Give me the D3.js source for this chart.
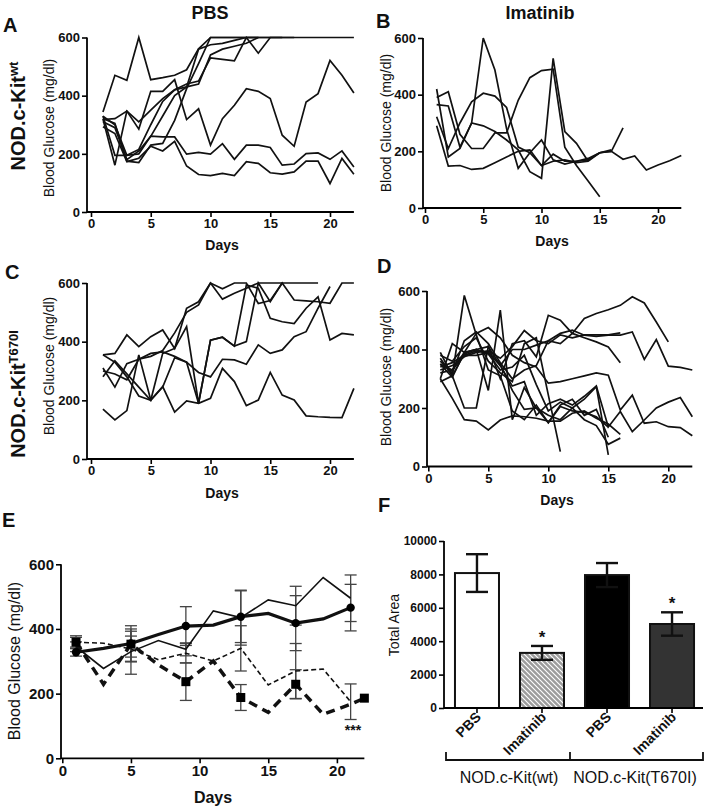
<!DOCTYPE html>
<html><head><meta charset="utf-8">
<script src="https://cdn.jsdelivr.net/npm/d3@7"></script>
<style>
body{margin:0;background:#fff}
svg{display:block}
text{font-family:"Liberation Sans",Arial,Helvetica,sans-serif;fill:#111}
</style>
</head><body>
<svg id="c" width="710" height="809"></svg>
<script>
// ---------------- DATA ----------------
const dayTicks = [0, 5, 10, 15, 20];
const glucoseTicks = [0, 200, 400, 600];

// Panel A: NOD.c-Kit wt, PBS (values for day 1,2,3,...)
const panelA = [
  [344, 470, 453, 600, 455, 462, 470, 489, 561, 600, 600, 600, 600, 600, 600, 600, 600, 600, 600, 600, 600, 600],
  [318, 321, 347, 285, 415, 415, 455, 318, 355, 230, 321, 367, 424, 415, 390, 264, 226, 378, 407, 521, 470, 409],
  [329, 300, 195, 200, 261, 258, 258, 199, 205, 199, 235, 181, 230, 230, 222, 161, 165, 201, 203, 181, 210, 155],
  [293, 270, 173, 185, 226, 210, 243, 158, 129, 125, 133, 125, 173, 167, 135, 130, 138, 175, 175, 98, 184, 130],
  [320, 161, 347, 310, 350, 390, 420, 440, 450, 530, 525, 520, 600, 546, 600, 600],
  [321, 305, 175, 170, 230, 236, 315, 424, 510, 600, 600, 600, 600, 600],
  [330, 195, 195, 215, 300, 380, 420, 430, 440, 540, 560, 570, 580, 600, 600, 600, 600],
  [310, 290, 180, 210, 260, 330, 400, 430, 560, 575, 580, 590, 600, 600]
];
// Panel B: NOD.c-Kit wt, Imatinib
const panelB = [
  [365, 360, 215, 300, 600, 487, 280, 140, 195, 150, 165, 170, 160, 165, 195, 200, 283],
  [322, 210, 300, 375, 405, 395, 355, 215, 195, 240, 170, 155, 165, 175, 195, 205],
  [390, 410, 260, 210, 210, 265, 265, 380, 460, 485, 490, 215, 150, 95, 40],
  [290, 148, 150, 136, 140, 160, 180, 200, 205, 150, 190, 165, 165, 170, 195, 200, 172, 184, 134, 152, 167, 185],
  [420, 180, 210, 300, 290, 270, 240, 205, 128, 105, 528, 270, 228, 165]
];
// Panel C: NOD.c-Kit T670I, PBS
const panelC = [
  [170, 133, 165, 355, 201, 247, 160, 198, 190, 207, 309, 264, 182, 201, 295, 218, 201, 147, 144, 142, 141, 241],
  [355, 330, 280, 215, 200, 245, 345, 330, 190, 405, 415, 385, 593, 582, 480, 468, 462, 514, 553, 406, 428, 423],
  [310, 245, 325, 340, 360, 365, 350, 330, 295, 280, 340, 338, 323, 389, 360, 372, 417, 434, 514, 588],
  [355, 360, 423, 383, 417, 440, 377, 514, 536, 600, 545, 565, 582, 600, 600, 600, 600, 600, 600],
  [280, 335, 290, 245, 200, 360, 377, 451, 190, 405, 415, 385, 400, 600, 536, 600, 542, 539, 536, 531, 600, 600],
  [300, 290, 270, 340, 350, 370, 430, 500, 525, 600, 580, 600, 600, 530, 540, 600]
];
// Panel D: NOD.c-Kit T670I, Imatinib
const panelD = [
  [360, 320, 430, 460, 420, 355, 300, 330, 345, 430, 420, 455, 506, 523, 536, 551, 580, 559, 494, 426],
  [340, 355, 380, 395, 390, 345, 400, 400, 415, 430, 455, 466, 449, 445, 449, 449, 460, 366, 434, 343, 339, 330],
  [370, 310, 385, 400, 410, 300, 420, 430, 375, 517, 500, 455, 440, 426, 409, 355],
  [330, 345, 375, 390, 395, 370, 410, 465, 430, 420, 450, 440, 450, 450, 450, 457],
  [300, 420, 390, 455, 475, 440, 380, 355, 340, 285, 290, 300, 310, 320, 312, 193, 244, 148, 153, 136, 133, 105],
  [390, 310, 200, 200, 410, 345, 275, 290, 175, 215, 230, 210, 240, 275, 135, 188, 119, 159, 200, 220, 236, 170],
  [350, 305, 390, 400, 385, 330, 340, 380, 280, 190, 220, 200, 230, 273, 40],
  [380, 360, 410, 440, 360, 320, 290, 420, 440, 245, 51],
  [320, 330, 380, 380, 390, 350, 260, 195, 200, 175, 160, 200, 160, 140, 76, 97],
  [300, 233, 160, 155, 125, 159, 173, 170, 165, 155, 155, 182, 190, 165, 145, 110],
  [290, 310, 585, 450, 330, 310, 190, 160, 210, 150, 210, 230, 175, 195, 100],
  [350, 330, 390, 400, 260, 535, 160, 270, 200, 150, 205, 190, 185, 170, 135]
];

// Panel E: means
const eDays = [1, 3, 5, 7, 9, 11, 13, 15, 17, 19, 21];
const eDaysSq = [1, 3, 5, 7, 9, 11, 13, 15, 17, 19, 21, 22];
const ePbsThin = [345, 278, 330, 364, 337, 456, 435, 490, 472, 559, 495];
const ePbsThick = [328, 340, 355, 383, 409, 412, 438, 448, 418, 431, 466];
const eImaThin = [359, 356, 338, 305, 325, 301, 340, 227, 270, 276, 175];
const eImaThick = [359, 229, 353, 289, 237, 301, 188, 142, 229, 136, 167, 186];
const eMarkDays = [1, 5, 9, 13, 17, 21];
const eMarkDaysSq = [1, 5, 9, 13, 17, 22];
const eErrPbsThick = [12, 55, 60, 80, 85, 72];
const eErrPbsThin = [15, 70, 20, 85, 60, 72];
const eErrImaThin = [20, 40, 30, 70, 85, 55];
const eErrImaThick = [15, 40, 58, 40, 45, 0];

// Panel F
const fLabels = ["PBS", "Imatinib", "PBS", "Imatinib"];
const fValues = [8080, 3300, 7960, 5030];
const fErrors = [1130, 415, 720, 700];
const fTicks = [0, 2000, 4000, 6000, 8000, 10000];
const fGroups = ["NOD.c-Kit(wt)", "NOD.c-Kit(T670I)"];

// ---------------- DRAW ----------------
const svg = d3.select("#c");
const defs = svg.append("defs");
const pat = defs.append("pattern").attr("id", "hatch").attr("patternUnits", "userSpaceOnUse")
  .attr("width", 5).attr("height", 5);
pat.append("rect").attr("width", 5).attr("height", 5).attr("fill", "#9c9c9c");
pat.append("path").attr("d", "M-1,-1 L6,6 M-1,4 L1,6 M4,-1 L6,1").attr("stroke", "#fff").attr("stroke-width", 1.1);

function styleAxis(g, fs) {
  g.select(".domain").remove();
  g.selectAll(".tick line").attr("stroke", "#000").attr("stroke-width", 1.6);
  g.selectAll(".tick text").attr("font-size", fs).attr("font-weight", "bold")
    .attr("fill", "#111").attr("font-family", '"Liberation Sans",Arial,sans-serif');
}

function glucosePanel(cfg) {
  const x = d3.scaleLinear().domain([0, 22]).range([cfg.x0, cfg.x0 + 22 * cfg.ppd]);
  const y = d3.scaleLinear().domain([0, 600]).range([cfg.y0, cfg.y600]);
  const g = svg.append("g");
  const gy = g.append("g").attr("transform", `translate(${cfg.yAxisX},0)`)
    .call(d3.axisLeft(y).tickValues(glucoseTicks).tickSize(5).tickPadding(2).tickSizeOuter(0));
  styleAxis(gy, cfg.fs);
  const gx = g.append("g").attr("transform", `translate(0,${cfg.y0})`)
    .call(d3.axisBottom(x).tickValues(dayTicks).tickSize(5).tickPadding(2).tickSizeOuter(0));
  styleAxis(gx, cfg.fs);
  g.append("line").attr("x1", cfg.yAxisX).attr("x2", cfg.yAxisX).attr("y1", y(0)).attr("y2", y(600))
    .attr("stroke", "#000").attr("stroke-width", 1.8);
  g.append("line").attr("x1", cfg.yAxisX).attr("x2", x(22)).attr("y1", y(0)).attr("y2", y(0))
    .attr("stroke", "#000").attr("stroke-width", 1.8);
  return {g, x, y};
}

function drawLines(p, lines) {
  const ln = d3.line().x((d, i) => p.x(i + 1)).y(d => p.y(d));
  p.g.selectAll("path.series").data(lines).enter().append("path").attr("class", "series")
    .attr("d", ln).attr("fill", "none").attr("stroke", "#111").attr("stroke-width", 1.7)
    .attr("stroke-linejoin", "miter");
}

function yLabel(x, y, txt, fs, weight) {
  svg.append("text").attr("transform", `translate(${x},${y}) rotate(-90)`)
    .attr("text-anchor", "middle").attr("font-size", fs).attr("font-weight", weight || "normal").text(txt);
}
function txt(x, y, t, fs, weight, anchor) {
  return svg.append("text").attr("x", x).attr("y", y).attr("font-size", fs)
    .attr("font-weight", weight || "normal").attr("text-anchor", anchor || "middle").text(t);
}

// Panels A-D
const pA = glucosePanel({x0: 91, ppd: 11.95, yAxisX: 87, y0: 212, y600: 37.5, fs: 13});
drawLines(pA, panelA);
const pB = glucosePanel({x0: 425, ppd: 11.65, yAxisX: 423, y0: 208, y600: 38, fs: 13});
drawLines(pB, panelB);
const pC = glucosePanel({x0: 91, ppd: 11.95, yAxisX: 87, y0: 459, y600: 283, fs: 13});
drawLines(pC, panelC);
const pD = glucosePanel({x0: 428.3, ppd: 12, yAxisX: 427, y0: 466.5, y600: 291, fs: 13});
drawLines(pD, panelD);

txt(222, 250, "Days", 14, "bold");
txt(552, 246, "Days", 14, "bold");
txt(222, 498, "Days", 14, "bold");
txt(557, 505, "Days", 14, "bold");
yLabel(54, 128, "Blood  Glucose (mg/dl)", 14);
yLabel(391, 123, "Blood  Glucose (mg/dl)", 14);
yLabel(54, 366, "Blood  Glucose (mg/dl)", 14);
yLabel(391, 377, "Blood  Glucose (mg/dl)", 14);

// Titles & panel letters
txt(210, 19, "PBS", 18, "bold");
txt(540, 19, "Imatinib", 18, "bold");
[["A", 3, 32], ["B", 376, 28], ["C", 5, 279], ["D", 377, 273], ["E", 2, 527], ["F", 378, 512]]
  .forEach(([l, x, y]) => txt(x, y, l, 20, "bold", "start"));

// Row labels
function rowLabel(x, y, base, sup) {
  const t = svg.append("text").attr("transform", `translate(${x},${y}) rotate(-90)`)
    .attr("text-anchor", "middle").attr("font-size", 20).attr("font-weight", "bold");
  t.append("tspan").text(base);
  t.append("tspan").attr("dy", -7).attr("font-size", 13).text(sup);
}
rowLabel(25, 116, "NOD.c-Kit", "wt");
rowLabel(25, 394, "NOD.c-Kit", "T670I");

// Panel E
(function () {
  const p = glucosePanel({x0: 62.3, ppd: 13.73, yAxisX: 61, y0: 758.3, y600: 564.3, fs: 15});
  const ln = d3.line().x(d => p.x(d[0])).y(d => p.y(d[1]));
  const zip = (a, b) => a.map((d, i) => [d, b[i]]);
  function errs(days, means, errsA) {
    days.forEach((d, i) => {
      const e = errsA[i];
      if (!e) return;
      const m = means[i];
      const cx = p.x(d);
      p.g.append("line").attr("x1", cx).attr("x2", cx).attr("y1", p.y(m - e)).attr("y2", p.y(m + e))
        .attr("stroke", "#444").attr("stroke-width", 1.3);
      [m - e, m + e].forEach(v => p.g.append("line").attr("x1", cx - 6).attr("x2", cx + 6)
        .attr("y1", p.y(v)).attr("y2", p.y(v)).attr("stroke", "#444").attr("stroke-width", 1.3));
    });
  }
  const pick = (days, vals, which) => which.map(d => vals[days.indexOf(d)]);
  errs(eMarkDays, pick(eDays, ePbsThin, eMarkDays), eErrPbsThin);
  errs(eMarkDays, pick(eDays, ePbsThick, eMarkDays), eErrPbsThick);
  errs(eMarkDays, pick(eDays, eImaThin, eMarkDays), eErrImaThin);
  errs(eMarkDaysSq, pick(eDaysSq, eImaThick, eMarkDaysSq), eErrImaThick);

  p.g.append("path").attr("d", ln(zip(eDays, ePbsThin))).attr("fill", "none").attr("stroke", "#111").attr("stroke-width", 1.6);
  p.g.append("path").attr("d", ln(zip(eDays, ePbsThick))).attr("fill", "none").attr("stroke", "#111").attr("stroke-width", 3.2);
  p.g.append("path").attr("d", ln(zip(eDays, eImaThin))).attr("fill", "none").attr("stroke", "#111")
    .attr("stroke-width", 1.6).attr("stroke-dasharray", "5,3");
  p.g.append("path").attr("d", ln(zip(eDaysSq, eImaThick))).attr("fill", "none").attr("stroke", "#111")
    .attr("stroke-width", 3.5).attr("stroke-dasharray", "9,6");
  p.g.selectAll("circle.m").data(eMarkDays).enter().append("circle")
    .attr("cx", d => p.x(d)).attr("cy", d => p.y(ePbsThick[eDays.indexOf(d)])).attr("r", 4.2).attr("fill", "#000");
  p.g.selectAll("rect.m").data(eMarkDaysSq).enter().append("rect")
    .attr("x", d => p.x(d) - 4.5).attr("y", d => p.y(eImaThick[eDaysSq.indexOf(d)]) - 4.5)
    .attr("width", 9).attr("height", 9).attr("fill", "#000");
  txt(353, 735, "***", 14, "bold").attr("fill", "#444");
})();
txt(213, 803, "Days", 16, "bold");
yLabel(20, 661, "Blood Glucose (mg/dl)", 16);

// Panel F
(function () {
  const y = d3.scaleLinear().domain([0, 10000]).range([708, 541]);
  const x = d3.scaleBand().domain(d3.range(fValues.length)).range([446, 703]).paddingInner(0.323).paddingOuter(0.138);
  const g = svg.append("g");
  const gy = g.append("g").attr("transform", "translate(444,0)")
    .call(d3.axisLeft(y).tickValues(fTicks).tickFormat(d3.format("d")).tickSize(5).tickPadding(2).tickSizeOuter(0));
  styleAxis(gy, 12);
  g.append("line").attr("x1", 444).attr("x2", 444).attr("y1", y(0)).attr("y2", y(10000)).attr("stroke", "#000").attr("stroke-width", 1.8);
  const fills = ["#fff", "url(#hatch)", "#000", "#333"];
  g.selectAll("rect.bar").data(fValues).enter().append("rect").attr("class", "bar")
    .attr("x", (d, i) => x(i)).attr("y", d => y(d)).attr("width", x.bandwidth()).attr("height", d => y(0) - y(d))
    .attr("fill", (d, i) => fills[i]).attr("stroke", "#111").attr("stroke-width", 2);
  fValues.forEach((v, i) => {
    const cx = x(i) + x.bandwidth() / 2;
    const e = fErrors[i];
    g.append("line").attr("x1", cx).attr("x2", cx).attr("y1", y(v - e)).attr("y2", y(v + e)).attr("stroke", "#111").attr("stroke-width", 2.4);
    [v - e, v + e].forEach(t => g.append("line").attr("x1", cx - 11).attr("x2", cx + 11).attr("y1", y(t)).attr("y2", y(t))
      .attr("stroke", "#111").attr("stroke-width", 2.4));
  });
  g.append("line").attr("x1", 444).attr("x2", 703).attr("y1", y(0)).attr("y2", y(0)).attr("stroke", "#000").attr("stroke-width", 1.8);
  fLabels.forEach((l, i) => {
    const cx = x(i) + x.bandwidth() / 2;
    g.append("line").attr("x1", cx).attr("x2", cx).attr("y1", y(0)).attr("y2", y(0) + 5).attr("stroke", "#000").attr("stroke-width", 1.6);
    g.append("text").attr("transform", `translate(${cx + 5},${y(0) + 10}) rotate(-45)`)
      .attr("text-anchor", "end").attr("font-size", 14).attr("font-weight", "bold").text(l);
  });
  [1, 3].forEach(i => {
    const cx = x(i) + x.bandwidth() / 2;
    g.append("text").attr("x", cx).attr("y", y(fValues[i] + fErrors[i]) - 3).attr("text-anchor", "middle")
      .attr("font-size", 17).attr("font-weight", "bold").text("*");
  });
  g.append("path").attr("d", "M446,752 L446,760 L703,760 L703,752 M570,760 L570,752")
    .attr("fill", "none").attr("stroke", "#111").attr("stroke-width", 1.8);
  txt(509, 783, fGroups[0], 16);
  txt(635, 783, fGroups[1], 16);
})();
yLabel(399, 625, "Total Area", 14);
</script>
</body></html>
